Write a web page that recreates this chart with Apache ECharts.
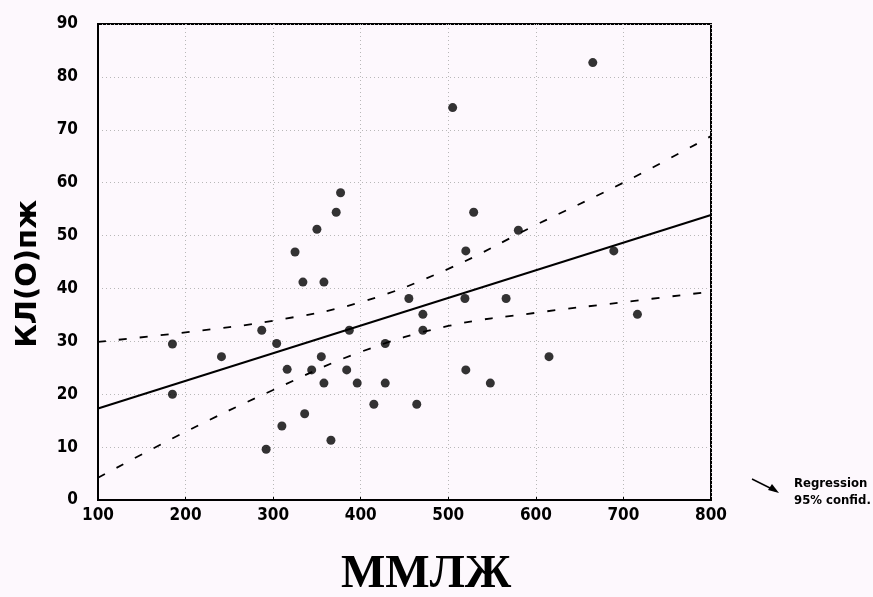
<!DOCTYPE html>
<html>
<head>
<meta charset="utf-8">
<script src="https://cdn.jsdelivr.net/npm/echarts@6/dist/echarts.min.js"></script>
<style>
  html, body { margin: 0; padding: 0; background: #fdf8fd; }
  #chart { width: 873px; height: 597px; }
</style>
</head>
<body>
<div id="chart"></div>
<script>
// точки (ММЛЖ, КЛ(О)пж)
var pointX = [185, 185, 241, 287, 292, 304, 310, 316, 325, 334, 336, 344, 350, 355, 358, 358, 366, 372, 377, 384, 387,
    396, 415, 428, 428, 455, 464, 471, 471, 505, 519, 520, 520, 529, 548, 566, 580, 615, 665, 689, 716];
var pointY = [29.5, 20.0, 27.1, 32.1, 9.6, 29.6, 14.0, 24.7, 46.9, 41.2, 16.3, 24.6, 51.2, 27.1, 41.2, 22.1, 11.3, 54.4, 58.1, 24.6, 32.1,
    22.1, 18.1, 29.6, 22.1, 38.1, 18.1, 35.1, 32.1, 74.2, 38.1, 47.1, 24.6, 54.4, 22.1, 38.1, 51.0, 27.1, 82.7, 47.1, 35.1];

// линия регрессии
var regX = [100, 800];
var regY = [17.3, 53.9];

// 95% доверительный интервал
var ciX = [100, 200, 300, 400, 500, 600, 700, 800];
var upperY = [29.9, 31.7, 33.9, 37.4, 43.7, 52.0, 60.0, 68.8];
var lowerY = [4.2, 12.9, 20.8, 28.0, 32.9, 35.4, 37.4, 39.4];

var xTicks = [100, 200, 300, 400, 500, 600, 700, 800];
var yTicks = [0, 10, 20, 30, 40, 50, 60, 70, 80, 90];

function zip(a, b) {
    return a.map(function (v, i) { return [v, b[i]]; });
}

var chart = echarts.init(document.getElementById('chart'));

var narrow = '"Liberation Sans Narrow", "DejaVu Sans Condensed"';
var labelFont = {
    color: '#000',
    fontSize: 17,
    fontWeight: 'bold',
    fontFamily: narrow
};
var gridLine = { show: true, lineStyle: { color: '#b8b8b8', type: [1, 3], width: 1 } };

var option = {
    backgroundColor: '#fdf8fd',
    animation: false,
    grid: {
        left: 98, right: 162, top: 24, bottom: 97,
        show: true, borderColor: '#000', borderWidth: 2, backgroundColor: 'transparent'
    },
    xAxis: {
        type: 'value',
        min: xTicks[0], max: xTicks[xTicks.length - 1], interval: 100,
        axisLine: { show: true, lineStyle: { color: '#000', width: 2 } },
        axisTick: { show: true, length: 3, inside: true, lineStyle: { color: '#000' } },
        axisLabel: Object.assign({ margin: 7 }, labelFont),
        splitLine: gridLine
    },
    yAxis: {
        type: 'value',
        min: yTicks[0], max: yTicks[yTicks.length - 1], interval: 10,
        axisLine: { show: true, lineStyle: { color: '#000', width: 2 } },
        axisTick: { show: false },
        axisLabel: Object.assign({ margin: 20 }, labelFont),
        splitLine: gridLine
    },
    series: [
        {
            name: '95% confid.',
            type: 'line',
            data: zip(ciX, upperY),
            smooth: 0.4,
            symbol: 'none',
            lineStyle: { color: '#000', width: 1.8, type: [8, 13] },
            z: 2
        },
        {
            name: '95% confid. low',
            type: 'line',
            data: zip(ciX, lowerY),
            smooth: 0.4,
            symbol: 'none',
            lineStyle: { color: '#000', width: 1.8, type: [8, 13] },
            z: 2
        },
        {
            name: 'Regression',
            type: 'line',
            data: zip(regX, regY),
            symbol: 'none',
            lineStyle: { color: '#000', width: 2 },
            z: 3
        },
        {
            name: 'data',
            type: 'scatter',
            data: zip(pointX, pointY),
            symbol: 'circle',
            symbolSize: 9,
            itemStyle: { color: '#000' },
            z: 4
        }
    ],
    graphic: [
        {
            type: 'text', left: 14, top: 200,
            rotation: Math.PI / 2,
            style: {
                text: 'КЛ(О)пж', fill: '#000',
                font: 'bold 29px "DejaVu Sans"'
            }
        },
        {
            type: 'text', left: 341, top: 551,
            style: {
                text: 'ММЛЖ', fill: '#000',
                font: 'bold 47px "Liberation Serif"'
            }
        },
        {
            type: 'polyline',
            shape: { points: [[752, 479], [776, 491]] },
            style: { stroke: '#000', lineWidth: 1.5 }
        },
        {
            type: 'polygon',
            shape: { points: [[779, 493], [768, 490], [772, 484]] },
            style: { fill: '#000' }
        },
        {
            type: 'text', left: 794, top: 477,
            style: { text: 'Regression', fill: '#000', font: 'bold 13px ' + narrow }
        },
        {
            type: 'text', left: 794, top: 494,
            style: { text: '95% confid.', fill: '#000', font: 'bold 13px ' + narrow }
        }
    ]
};

chart.setOption(option);
</script>
</body>
</html>
